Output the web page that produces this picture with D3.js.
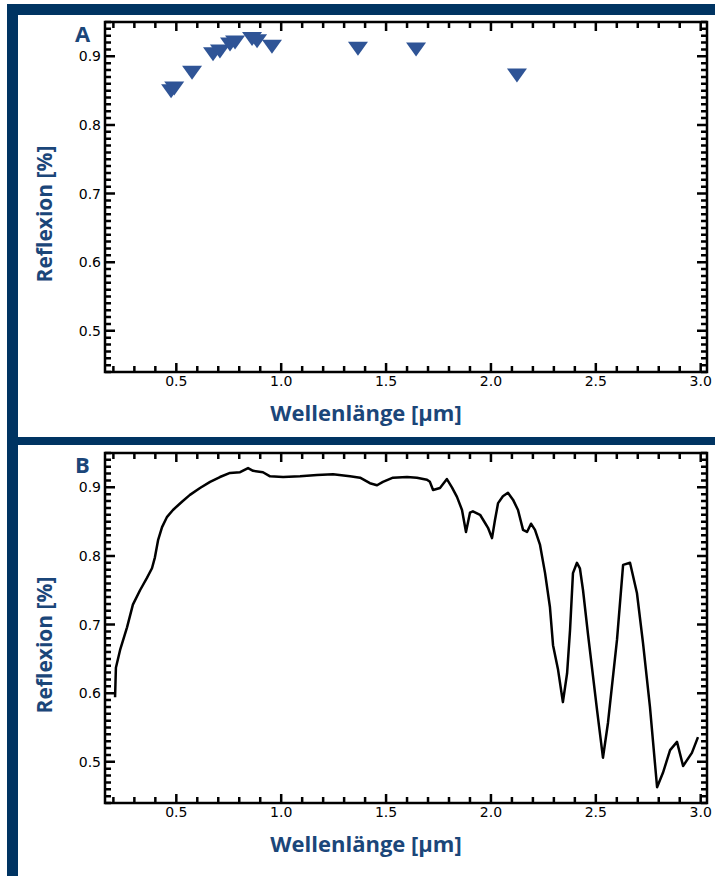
<!DOCTYPE html>
<html>
<head>
<meta charset="utf-8">
<script src="https://cdn.jsdelivr.net/npm/d3@7"></script>
<style>
  body { margin: 0; background: #fff; }
  svg { display: block; }
</style>
</head>
<body>
<svg width="715" height="876"></svg>
<script>
// tick labels
const xTicks = [0.5, 1.0, 1.5, 2.0, 2.5, 3.0];
const yTicks = [0.5, 0.6, 0.7, 0.8, 0.9];

// panel A: band reflectance (triangles)
const bandWavelength = [0.475, 0.49, 0.575, 0.675, 0.708, 0.756, 0.78, 0.861, 0.885, 0.956, 1.366, 1.643, 2.124];
const bandReflectance = [0.852, 0.856, 0.879, 0.906, 0.910, 0.920, 0.923, 0.928, 0.925, 0.917, 0.914, 0.913, 0.875];

// panel B: measured spectrum
const spectrumWavelength = [0.208, 0.212, 0.232, 0.265, 0.293, 0.327, 0.360, 0.384, 0.398, 0.413, 0.432, 0.456, 0.484, 0.527, 0.565, 0.613, 0.661, 0.708, 0.756, 0.804, 0.842, 0.866, 0.913, 0.947, 1.009, 1.090, 1.171, 1.247, 1.328, 1.376, 1.423, 1.457, 1.485, 1.533, 1.600, 1.647, 1.695, 1.709, 1.724, 1.757, 1.790, 1.814, 1.838, 1.862, 1.881, 1.900, 1.914, 1.948, 1.972, 1.986, 2.005, 2.019, 2.034, 2.057, 2.081, 2.105, 2.129, 2.153, 2.172, 2.191, 2.210, 2.234, 2.258, 2.281, 2.296, 2.320, 2.343, 2.363, 2.377, 2.391, 2.410, 2.424, 2.439, 2.463, 2.506, 2.534, 2.558, 2.601, 2.630, 2.663, 2.696, 2.725, 2.758, 2.792, 2.820, 2.854, 2.887, 2.916, 2.958, 2.987];
const spectrumReflectance = [0.594, 0.637, 0.663, 0.696, 0.729, 0.750, 0.768, 0.782, 0.798, 0.823, 0.842, 0.857, 0.867, 0.879, 0.889, 0.899, 0.908, 0.915, 0.921, 0.922, 0.928, 0.924, 0.922, 0.916, 0.915, 0.916, 0.918, 0.919, 0.916, 0.914, 0.906, 0.903, 0.908, 0.914, 0.915, 0.914, 0.911, 0.908, 0.896, 0.899, 0.912, 0.900, 0.886, 0.867, 0.835, 0.863, 0.865, 0.860, 0.848, 0.841, 0.826, 0.852, 0.877, 0.887, 0.892, 0.882, 0.867, 0.838, 0.835, 0.847, 0.838, 0.816, 0.775, 0.726, 0.670, 0.634, 0.587, 0.629, 0.692, 0.775, 0.790, 0.782, 0.750, 0.685, 0.575, 0.506, 0.557, 0.678, 0.787, 0.790, 0.746, 0.673, 0.580, 0.463, 0.484, 0.517, 0.529, 0.494, 0.513, 0.536];

const frameColor = "#003462";
const titleColor = "#1b4679";
const markColor = "#2f5496";
const titleFont = "'Open Sans', 'DejaVu Sans', sans-serif";
const tickFont = "'DejaVu Sans', sans-serif";

const svg = d3.select("svg");

// dark blue frame: top bar, separator, left bar
svg.append("rect").attr("x", 7).attr("y", 4).attr("width", 708).attr("height", 11).attr("fill", frameColor);
svg.append("rect").attr("x", 7).attr("y", 437).attr("width", 708).attr("height", 8).attr("fill", frameColor);
svg.append("rect").attr("x", 7).attr("y", 4).attr("width", 11).attr("height", 872).attr("fill", frameColor);

const x = d3.scaleLinear().domain([0.16, 3.03]).range([105, 707]);
const minorX = d3.range(2, 31).map(d => d / 10);
const minorY = d3.range(44, 96).map(d => d / 100);

const isMajor = (list, d) => list.some(t => Math.abs(t - d) < 1e-6);

function drawPanel(top, letter) {
    const y = d3.scaleLinear().domain([0.44, 0.95]).range([top + 350, top]);
    const g = svg.append("g");
    const left = x.range()[0], right = x.range()[1], bottom = top + 350;

    // inward ticks on all four sides (long at labelled values)
    const xLen = d => isMajor(xTicks, d) ? 9 : 6;
    const yLen = d => isMajor(yTicks, d) ? 10 : 6;
    const tickPath = minorX.map(d => `M${x(d)},${bottom}v${-xLen(d)}M${x(d)},${top}v${xLen(d)}`).join("")
        + minorY.map(d => `M${left},${y(d)}h${yLen(d)}M${right},${y(d)}h${-yLen(d)}`).join("");
    g.append("path")
        .attr("d", tickPath)
        .attr("fill", "none")
        .attr("stroke", "#000")
        .attr("stroke-width", 2.5);

    // tick labels
    g.append("g").selectAll("text").data(xTicks).join("text")
        .attr("x", d => x(d)).attr("y", bottom + 14)
        .attr("text-anchor", "middle")
        .attr("font-family", tickFont).attr("font-size", 14)
        .text(d3.format(".1f"));
    g.append("g").selectAll("text").data(yTicks).join("text")
        .attr("x", left - 4).attr("y", d => y(d)).attr("dy", "0.36em")
        .attr("text-anchor", "end")
        .attr("font-family", tickFont).attr("font-size", 14)
        .text(d3.format(".1f"));

    // plot box
    g.append("rect")
        .attr("x", left).attr("y", top)
        .attr("width", right - left).attr("height", 350)
        .attr("fill", "none").attr("stroke", "#000").attr("stroke-width", 2.5);

    // panel letter
    g.append("text")
        .attr("x", 75).attr("y", top + 20)
        .attr("font-family", titleFont).attr("font-weight", "bold").attr("font-size", 22)
        .attr("fill", titleColor)
        .text(letter);

    // axis titles
    g.append("text")
        .attr("transform", `translate(52,${top + 192}) rotate(-90)`)
        .attr("text-anchor", "middle")
        .attr("font-family", titleFont).attr("font-weight", "bold").attr("font-size", 21)
        .attr("fill", titleColor)
        .text("Reflexion [%]");
    g.append("text")
        .attr("x", 366).attr("y", top + 399)
        .attr("text-anchor", "middle")
        .attr("font-family", titleFont).attr("font-weight", "bold").attr("font-size", 22)
        .attr("fill", titleColor)
        .text("Wellenlänge [µm]");

    return { g, y };
}

// Panel A
const panelA = drawPanel(22, "A");
panelA.g.append("g")
    .selectAll("path")
    .data(bandWavelength.map((w, i) => [w, bandReflectance[i]]))
    .join("path")
    .attr("transform", d => `translate(${x(d[0])},${panelA.y(d[1])})`)
    .attr("d", "M-10,-5L10,-5L0,9Z")
    .attr("fill", markColor);

// Panel B
const panelB = drawPanel(453, "B");
const line = d3.line()
    .x(d => x(d[0]))
    .y(d => panelB.y(d[1]));
panelB.g.append("path")
    .datum(spectrumWavelength.map((w, i) => [w, spectrumReflectance[i]]))
    .attr("d", line)
    .attr("fill", "none")
    .attr("stroke", "#000")
    .attr("stroke-width", 2.5)
    .attr("stroke-linejoin", "round");
</script>
</body>
</html>
